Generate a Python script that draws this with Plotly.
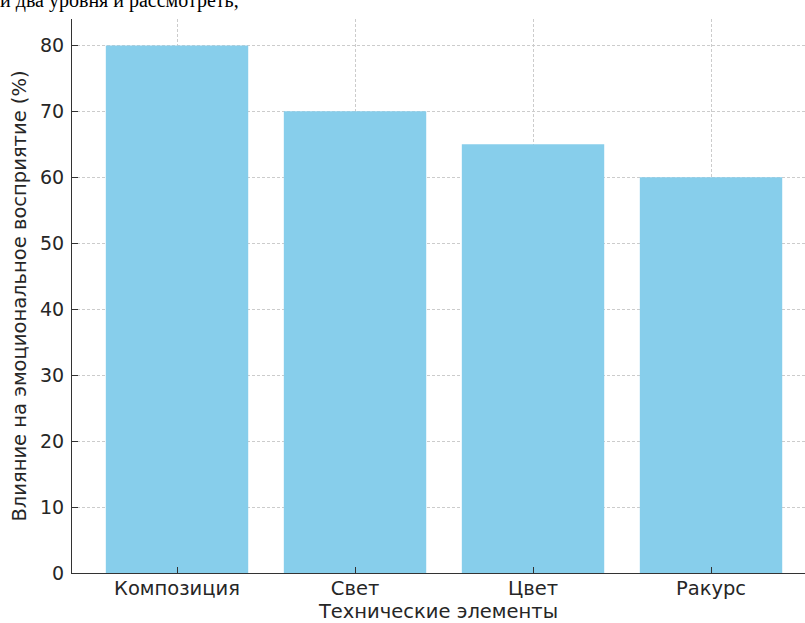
import plotly.graph_objects as go

categories = ["Композиция", "Свет", "Цвет", "Ракурс"]
values = [80, 70, 65, 60]
y_ticks = [0, 10, 20, 30, 40, 50, 60, 70, 80]

W, H = 805, 623
ml, mr, mt, mb = 72, 0, 19, 50
pw = W - ml - mr
ph = H - mt - mb

fig = go.Figure(go.Bar(
    x=list(range(len(categories))), y=values,
    marker=dict(color="#87CEEB", line=dict(width=0)),
    width=0.8,
))

axis_common = dict(
    showline=True, linecolor="#333333", linewidth=1.2,
    ticks="inside", ticklen=6, tickwidth=1.2, tickcolor="#333333",
    showgrid=True, gridcolor="#cccccc", gridwidth=0.8, griddash="3px,2px",
    layer="above traces", zeroline=False,
    title_font=dict(family="DejaVu Sans", size=19.5, color="#262626"),
)

fig.update_xaxes(
    range=[-0.59, -0.59 + pw / 178.0],
    tickvals=list(range(len(categories))), ticktext=categories,
    tickfont=dict(family="DejaVu Sans", size=19.5, color="#262626"),
    ticklabelstandoff=-3,
    title_text="Технические элементы", title_standoff=6,
    **axis_common,
)
fig.update_yaxes(
    range=[0, 84], tickvals=y_ticks,
    tickfont=dict(family="DejaVu Sans", size=19, color="#262626"),
    ticklabelstandoff=3,
    title_text="Влияние на эмоциональное восприятие (%)", title_standoff=8,
    **axis_common,
)

fig.add_annotation(
    text="и два уровня и рассмотреть,", showarrow=False,
    xref="paper", yref="paper", x=(-2 - ml) / pw, y=1 + 5 / ph,
    xanchor="left", yanchor="bottom",
    font=dict(family="Liberation Serif", size=20, color="#000000"),
)

fig.update_layout(
    width=W, height=H, autosize=False,
    margin=dict(l=ml, r=mr, t=mt, b=mb, pad=0),
    plot_bgcolor="white", paper_bgcolor="white",
    showlegend=False, bargap=0.2,
)

fig.write_html("out.html", config={"displayModeBar": False},
               post_script="document.body.style.margin='0';document.body.style.overflow='hidden';")
